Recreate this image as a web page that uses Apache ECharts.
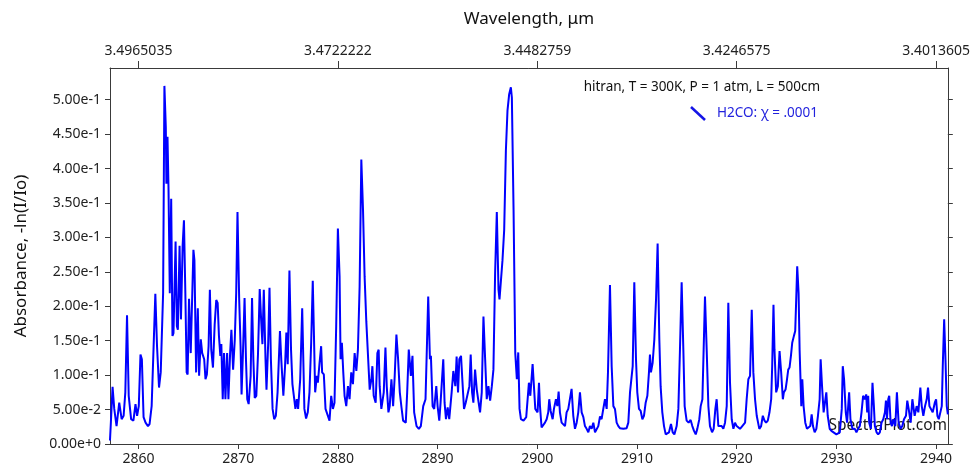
<!DOCTYPE html>
<html>
<head>
<meta charset="utf-8">
<script src="https://cdn.jsdelivr.net/npm/echarts@6/dist/echarts.min.js"></script>
<style>
  html, body { margin: 0; padding: 0; background: #fff; }
  #chart { width: 973px; height: 470px; }
</style>
</head>
<body>
<div id="chart"></div>
<script>
// Wavenumber (cm-1) / absorbance pairs, in segments
const wn1 = [2857.14,2857.23,2857.40,2857.57,2857.80,2858.07,2858.31,2858.51,2858.68,2858.85,
  2859.02,2859.26,2859.49,2859.70,2859.86,2860.03,2860.20,2860.34,2860.51,2860.71,
  2860.95,2861.11,2861.32,2861.45,2861.69,2861.86,2862.06,2862.23,2862.33,2862.47,
  2862.60,2862.74,2862.80,2862.91,2863.01,2863.14,2863.28,2863.41,2863.51,2863.72,
  2863.85,2863.95,2864.12,2864.26,2864.43,2864.56,2864.70,2864.83,2864.93,2865.07,
  2865.24,2865.51,2865.61,2865.78,2865.95,2866.08,2866.25,2866.39,2866.59,2866.72,
  2866.86,2867.03,2867.16,2867.30,2867.47,2867.64,2867.80,2867.94,2868.07,2868.21,
  2868.31,2868.45,2868.58,2868.72,2868.89,2869.02,2869.19,2869.32,2869.49,2869.66,
  2869.80,2869.93,2870.10,2870.24,2870.34,2870.51,2870.64,2870.78,2870.91,2871.05,
  2871.25,2871.39,2871.52,2871.66,2871.82,2871.99,2872.16,2872.30,2872.43,2872.57,
  2872.74,2872.84,2873.01,2873.14,2873.28,2873.45,2873.61,2873.78,2873.95,2874.19,
  2874.32,2874.53,2874.70,2874.83,2874.97,2875.14,2875.30,2875.44,2875.57,2875.74,
  2875.88,2876.01,2876.22,2876.42];
const abs1 = [0.005,0.031,0.083,0.051,0.026,0.060,0.036,0.041,0.075,0.187,
  0.070,0.036,0.034,0.058,0.041,0.055,0.130,0.123,0.039,0.031,
  0.026,0.029,0.055,0.055,0.218,0.142,0.082,0.104,0.104,0.219,
  0.520,0.460,0.378,0.446,0.373,0.219,0.356,0.157,0.161,0.294,
  0.171,0.166,0.288,0.181,0.289,0.325,0.219,0.104,0.101,0.211,
  0.132,0.282,0.267,0.104,0.197,0.099,0.152,0.132,0.123,0.094,
  0.101,0.142,0.224,0.137,0.111,0.173,0.209,0.205,0.157,0.128,
  0.145,0.065,0.132,0.065,0.132,0.065,0.132,0.166,0.108,0.152,
  0.219,0.337,0.210,0.142,0.072,0.147,0.212,0.123,0.065,0.058,
  0.099,0.212,0.123,0.067,0.070,0.132,0.225,0.181,0.145,0.224,
  0.123,0.079,0.147,0.227,0.123,0.051,0.036,0.041,0.075,0.164,
  0.123,0.070,0.113,0.162,0.116,0.252,0.137,0.087,0.087,0.051,
  0.065,0.051,0.094,0.197];

const wn2 = [2876.64,2876.81,2876.98,2877.15,2877.32,2877.48,2877.58,2877.72,2877.89,2877.99,
  2878.15,2878.32,2878.42,2878.59,2878.76,2878.93,2879.16,2879.33,2879.50,2879.66,
  2879.83,2880.00,2880.17,2880.27,2880.40,2880.54,2880.67,2880.84,2881.01,2881.17,
  2881.34,2881.51,2881.68,2881.85,2882.01,2882.18,2882.35,2882.52,2882.68,2882.85,
  2883.02,2883.19,2883.36,2883.46,2883.59,2883.79,2883.96,2884.09,2884.19,2884.36,
  2884.60,2884.77,2884.90,2885.07,2885.20,2885.37,2885.54,2885.70,2885.87,2886.04,
  2886.21,2886.38,2886.54,2886.81,2886.95,2887.11,2887.32,2887.48,2887.65,2887.89,
  2888.12,2888.32,2888.56,2888.79,2889.06,2889.23,2889.33,2889.50,2889.66,2889.87,
  2890.00,2890.17,2890.30,2890.57,2890.70,2890.84,2891.01,2891.17,2891.41,2891.58,
  2891.78,2891.91,2892.05,2892.18,2892.35,2892.48,2892.65,2892.82,2892.99,2893.19,
  2893.32,2893.46,2893.59,2893.76,2893.93,2894.09,2894.26,2894.43,2894.60,2894.77,
  2894.93,2895.10,2895.27,2895.44,2895.60,2895.77,2895.94,2896.11,2896.21,2896.38,
  2896.51,2896.68,2896.85,2897.01,2897.18,2897.35,2897.45,2897.62,2897.79,2897.95,
  2898.09,2898.22,2898.36,2898.62,2898.89,2899.16,2899.30,2899.53,2899.80,2900.03];
const abs2 = [0.051,0.037,0.046,0.075,0.147,0.237,0.171,0.075,0.099,0.089,
  0.116,0.142,0.104,0.101,0.051,0.053,0.034,0.070,0.051,0.060,
  0.171,0.313,0.243,0.123,0.147,0.104,0.070,0.055,0.084,0.065,
  0.104,0.087,0.132,0.106,0.137,0.229,0.413,0.340,0.243,0.178,
  0.176,0.079,0.094,0.113,0.070,0.060,0.132,0.137,0.084,0.051,
  0.075,0.140,0.084,0.046,0.055,0.094,0.055,0.099,0.159,0.123,
  0.075,0.053,0.034,0.031,0.075,0.137,0.099,0.128,0.046,0.026,
  0.022,0.026,0.055,0.065,0.214,0.123,0.128,0.055,0.051,0.084,
  0.055,0.034,0.060,0.123,0.060,0.036,0.053,0.036,0.075,0.106,
  0.084,0.127,0.075,0.123,0.128,0.094,0.051,0.060,0.060,0.084,
  0.130,0.075,0.060,0.108,0.079,0.079,0.046,0.075,0.185,0.123,
  0.065,0.084,0.063,0.084,0.108,0.248,0.337,0.224,0.210,0.211,
  0.267,0.311,0.426,0.484,0.508,0.518,0.503,0.340,0.132,0.094,
  0.133,0.051,0.036,0.034,0.039,0.089,0.070,0.116,0.051,0.046];

const wn3 = [2900.17,2900.27,2900.43,2900.60,2900.77,2900.94,2901.10,2901.20,2901.34,2901.54,
  2901.67,2901.87,2902.01,2902.14,2902.27,2902.44,2902.61,2902.78,2902.94,2903.11,
  2903.28,2903.44,2903.61,2903.78,2903.95,2904.11,2904.28,2904.45,2904.62,2904.78,
  2904.95,2905.12,2905.28,2905.45,2905.62,2905.79,2905.95,2906.12,2906.29,2906.45,
  2906.62,2906.79,2906.96,2907.09,2907.29,2907.46,2907.63,2907.79,2907.96,2908.13,
  2908.29,2908.63,2908.96,2909.13,2909.30,2909.47,2909.57,2909.73,2909.90,2910.03,
  2910.20,2910.37,2910.54,2910.70,2910.87,2911.04,2911.20,2911.30,2911.40,2911.57,
  2911.74,2911.91,2912.07,2912.24,2912.37,2912.54,2912.71,2912.88,2913.04,2913.21,
  2913.41,2913.58,2913.75,2913.98,2914.15,2914.31,2914.48,2914.65,2914.78,2914.98,
  2915.18,2915.38,2915.55,2915.72,2915.89,2916.05,2916.25,2916.39,2916.56,2916.72,
  2916.82,2916.99,2917.16,2917.32,2917.53,2917.69,2917.86,2917.99,2918.16,2918.33,
  2918.49,2918.66,2918.83,2919.00,2919.16,2919.33,2919.50,2919.67,2919.83,2920.00,
  2920.17,2920.33,2920.50,2920.67,2920.84,2921.00,2921.17,2921.34,2921.51,2921.67,
  2921.84,2922.01,2922.27];
const abs3 = [0.089,0.055,0.024,0.026,0.031,0.036,0.046,0.065,0.048,0.036,
  0.051,0.065,0.055,0.076,0.046,0.031,0.031,0.026,0.046,0.051,
  0.051,0.080,0.041,0.022,0.031,0.046,0.075,0.046,0.039,0.026,
  0.022,0.017,0.026,0.022,0.031,0.017,0.019,0.026,0.040,0.036,
  0.051,0.065,0.051,0.104,0.231,0.113,0.055,0.051,0.031,0.026,
  0.023,0.022,0.023,0.031,0.075,0.077,0.113,0.235,0.123,0.075,
  0.051,0.048,0.036,0.041,0.060,0.070,0.104,0.130,0.104,0.118,
  0.152,0.210,0.291,0.152,0.084,0.046,0.026,0.014,0.012,0.017,
  0.029,0.017,0.014,0.026,0.051,0.137,0.235,0.137,0.055,0.034,
  0.031,0.035,0.026,0.019,0.014,0.022,0.036,0.055,0.065,0.157,
  0.214,0.137,0.055,0.026,0.017,0.022,0.051,0.065,0.026,0.026,
  0.026,0.022,0.031,0.055,0.205,0.089,0.036,0.022,0.031,0.026,
  0.024,0.022,0.025,0.024,0.031,0.065,0.094,0.099,0.195,0.104,
  0.065,0.041,0.022];

const wn4 = [2922.45,2922.62,2922.79,2922.95,2923.12,2923.29,2923.46,2923.56,2923.69,2923.79,
  2923.96,2924.13,2924.30,2924.46,2924.63,2924.73,2924.90,2925.03,2925.17,2925.30,
  2925.44,2925.57,2925.74,2925.87,2925.97,2926.07,2926.21,2926.31,2926.48,2926.58,
  2926.71,2926.88,2927.05,2927.25,2927.38,2927.52,2927.65,2927.82,2927.99,2928.15,
  2928.32,2928.42,2928.56,2928.72,2928.86,2928.99,2929.13,2929.33,2929.50,2929.66,
  2930.00,2930.34,2930.54,2930.64,2930.77,2930.94,2931.07,2931.28,2931.41,2931.61,
  2931.85,2932.01,2932.18,2932.35,2932.52,2932.68,2932.85,2932.99,2933.09,2933.19,
  2933.29,2933.46,2933.62,2933.76,2933.86,2934.03,2934.19,2934.36,2934.53,2934.70,
  2934.87,2934.97,2935.07,2935.20,2935.30,2935.44,2935.57,2935.70,2935.91,2936.07,
  2936.24,2936.44,2936.61,2936.78,2936.98,2937.11,2937.25,2937.45,2937.62,2937.72,
  2937.85,2938.05,2938.22,2938.42,2938.56,2938.72,2938.89,2939.06,2939.19,2939.33,
  2939.53,2939.66,2939.87,2940.00,2940.13,2940.27,2940.40,2940.57,2940.67,2940.81,
  2940.94,2941.07,2941.18];
const abs4 = [0.026,0.041,0.034,0.031,0.034,0.046,0.065,0.113,0.202,0.137,
  0.075,0.084,0.135,0.104,0.065,0.075,0.079,0.092,0.108,0.111,
  0.128,0.147,0.157,0.164,0.210,0.258,0.219,0.137,0.055,0.094,
  0.055,0.031,0.022,0.022,0.026,0.043,0.026,0.017,0.022,0.041,
  0.065,0.123,0.084,0.046,0.046,0.075,0.041,0.022,0.019,0.017,
  0.014,0.017,0.051,0.113,0.094,0.046,0.031,0.075,0.036,0.022,
  0.022,0.017,0.022,0.026,0.046,0.070,0.065,0.072,0.046,0.070,
  0.031,0.022,0.089,0.055,0.026,0.017,0.014,0.017,0.031,0.036,
  0.046,0.063,0.036,0.065,0.070,0.031,0.026,0.036,0.026,0.075,
  0.031,0.022,0.026,0.036,0.041,0.063,0.051,0.031,0.065,0.067,
  0.041,0.055,0.046,0.082,0.055,0.041,0.055,0.065,0.082,0.055,
  0.055,0.046,0.060,0.065,0.041,0.036,0.036,0.055,0.113,0.181,
  0.123,0.055,0.043];

// Axis ticks
const xRange = [10000 / 3.5, 10000 / 3.4];           // 3.5 µm .. 3.4 µm
const bottomTicks = [2860, 2870, 2880, 2890, 2900, 2910, 2920, 2930, 2940];
const topTicks = [2860, 2880, 2900, 2920, 2940];
const topTickLabels = ['3.4965035', '3.4722222', '3.4482759', '3.4246575', '3.4013605'];
const yTicks = [0, 0.05, 0.1, 0.15, 0.2, 0.25, 0.3, 0.35, 0.4, 0.45, 0.5];
const yMax = 0.546;

const wn = wn1.concat(wn2, wn3, wn4);
const absorb = abs1.concat(abs2, abs3, abs4);
const seriesData = wn.map((w, i) => [w, absorb[i]]);

const FONT = 'Noto Sans';
const axisColor = '#3a3a3a';
const chart = echarts.init(document.getElementById('chart'), null, { renderer: 'canvas' });

chart.setOption({
  animation: false,
  backgroundColor: '#fff',
  textStyle: { fontFamily: FONT },
  grid: { left: 110, right: 25, top: 68, bottom: 26 },
  xAxis: [
    {
      type: 'value', position: 'bottom', min: xRange[0], max: xRange[1],
      axisLine: { show: true, onZero: false, lineStyle: { color: axisColor, width: 1 } },
      axisTick: { show: true, inside: false, length: 5, customValues: bottomTicks, lineStyle: { color: axisColor } },
      axisLabel: { customValues: bottomTicks, color: '#222', fontSize: 14, fontFamily: FONT, margin: 8,
        formatter: v => String(Math.round(v)) },
      splitLine: { show: false }
    },
    {
      type: 'value', position: 'top', min: xRange[0], max: xRange[1],
      name: 'Wavelength, μm', nameLocation: 'middle', nameGap: 40,
      nameTextStyle: { color: '#111', fontSize: 17, fontFamily: FONT },
      axisLine: { show: true, onZero: false, lineStyle: { color: axisColor, width: 1 } },
      axisTick: { show: true, inside: false, length: 7, customValues: topTicks, lineStyle: { color: axisColor } },
      axisLabel: { customValues: topTicks, color: '#222', fontSize: 14, fontFamily: FONT, margin: 10,
        formatter: v => topTickLabels[topTicks.indexOf(Math.round(v))] || '' },
      splitLine: { show: false }
    }
  ],
  yAxis: [
    {
      type: 'value', position: 'left', min: 0, max: yMax,
      name: 'Absorbance, -ln(I/Io)', nameLocation: 'middle', nameGap: 80, nameRotate: 90,
      nameTextStyle: { color: '#111', fontSize: 17, fontFamily: FONT },
      axisLine: { show: true, lineStyle: { color: axisColor, width: 1 } },
      axisTick: { show: true, inside: false, length: 5, customValues: yTicks, lineStyle: { color: axisColor } },
      axisLabel: { customValues: yTicks, color: '#222', fontSize: 14, fontFamily: FONT, margin: 9,
        formatter: v => Number(v).toExponential(2) },
      splitLine: { show: false }
    },
    {
      type: 'value', position: 'right', min: 0, max: yMax,
      axisLine: { show: true, lineStyle: { color: axisColor, width: 1 } },
      axisTick: { show: true, inside: false, length: 5, customValues: yTicks, lineStyle: { color: axisColor } },
      axisLabel: { show: false },
      splitLine: { show: false }
    }
  ],
  series: [
    {
      type: 'line', xAxisIndex: 0, yAxisIndex: 0,
      data: seriesData, showSymbol: false, symbol: 'none',
      lineStyle: { color: '#0000ff', width: 2 }, silent: true
    }
  ],
  graphic: [
    { type: 'text', right: 153, top: 80,
      style: { text: 'hitran, T = 300K, P = 1 atm, L = 500cm', fill: '#111', font: '13.5px "Noto Sans"', textAlign: 'right' } },
    { type: 'line', shape: { x1: 691, y1: 107, x2: 705, y2: 120 },
      style: { stroke: '#1414e6', lineWidth: 2.5 } },
    { type: 'text', left: 717, top: 106,
      style: { text: 'H2CO: χ = .0001', fill: '#2222dd', font: '13.5px "Noto Sans"' } },
    { type: 'text', right: 26, top: 418,
      style: { text: 'SpectraPlot.com', fill: '#1a1a1a', font: '15.5px "Noto Sans"' } }
  ]
});
</script>
</body>
</html>
